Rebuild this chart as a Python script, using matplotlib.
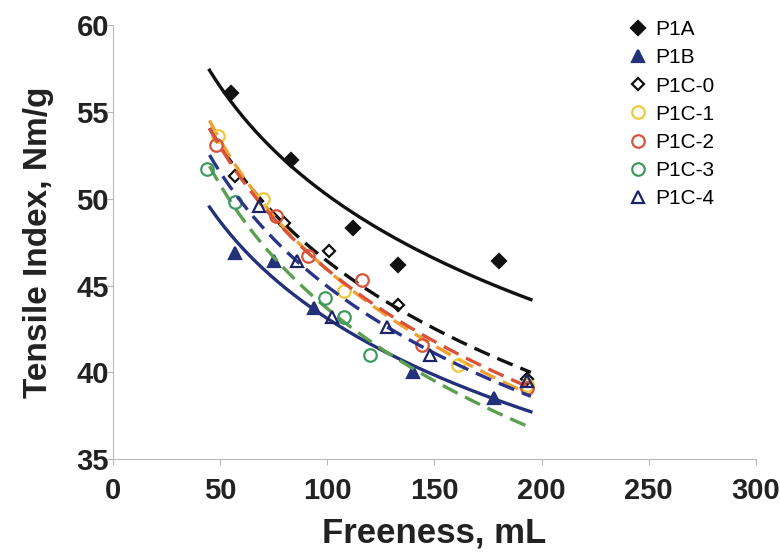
import matplotlib.pyplot as plt
import numpy as np

plt.rcParams['font.family'] = ['Liberation Sans', 'DejaVu Sans']

# freeness (mL) and tensile index (Nm/g)
p1a_x = [55, 83, 112, 133, 180]
p1a_y = [56.1, 52.2, 48.3, 46.2, 46.4]
p1b_x = [57, 75, 94, 140, 178]
p1b_y = [46.9, 46.4, 43.7, 40.0, 38.5]
p1c0_x = [57, 80, 101, 133, 193]
p1c0_y = [51.3, 48.6, 47.0, 43.9, 39.6]
p1c1_x = [49, 70, 108, 161, 193]
p1c1_y = [53.6, 50.0, 44.7, 40.4, 39.3]
p1c2_x = [48, 76, 91, 116, 144, 193]
p1c2_y = [53.1, 49.0, 46.7, 45.3, 41.6, 39.1]
p1c3_x = [44, 57, 99, 108, 120]
p1c3_y = [51.7, 49.8, 44.3, 43.2, 41.0]
p1c4_x = [68, 86, 102, 128, 148, 193]
p1c4_y = [49.6, 46.4, 43.2, 42.6, 41.0, 39.5]

trend_range = (45, 195)

series = [
    ("P1A", p1a_x, p1a_y, "D", "#111111", "#111111", "-"),
    ("P1B", p1b_x, p1b_y, "^", "#23307a", "#23307a", "-"),
    ("P1C-0", p1c0_x, p1c0_y, "D", "none", "#111111", "--"),
    ("P1C-1", p1c1_x, p1c1_y, "o", "none", "#f0c83c", "--"),
    ("P1C-2", p1c2_x, p1c2_y, "o", "none", "#d8533a", "--"),
    ("P1C-3", p1c3_x, p1c3_y, "o", "none", "#3f9a60", "--"),
    ("P1C-4", p1c4_x, p1c4_y, "^", "none", "#1c2468", "--"),
]
line_colors = ["#111111", "#23307a", "#111111", "#f0a030", "#d8533a", "#5aa050", "#2a3488"]

fig = plt.figure(figsize=(7.8, 5.54), dpi=100)
ax = fig.add_axes([0.145, 0.171, 0.824, 0.784])

xs = np.linspace(trend_range[0], trend_range[1], 200)
for (name, x, y, m, fc, ec, ls), lc in zip(series, line_colors):
    # logarithmic trendline like Excel
    k, b = np.polyfit(np.log(x), y, 1)
    if ls == "-":
        ax.plot(xs, k * np.log(xs) + b, color=lc, lw=2.4)
    else:
        ax.plot(xs, k * np.log(xs) + b, color=lc, lw=2.4, ls=(0, (5, 2.5)))
    ms = 7 if m == "D" else 9
    if m == "D" and fc == "none":
        ms = 6.5
    ax.plot(x, y, ls="none", marker=m, markersize=ms, markerfacecolor=fc,
            markeredgecolor=ec, markeredgewidth=1.6, label=name)

ax.set_xlim(0, 300)
ax.set_ylim(35, 60)
ax.set_xticks([0, 50, 100, 150, 200, 250, 300])
ax.set_yticks([35, 40, 45, 50, 55, 60])
for s in ["top", "right"]:
    ax.spines[s].set_visible(False)
for s in ["left", "bottom"]:
    ax.spines[s].set_color("#b8b8b8")
ax.tick_params(colors="#b8b8b8", length=4, labelcolor="#222222", labelsize=21)
ax.tick_params(axis="y", pad=-1)
ax.tick_params(axis="x", pad=9)
for t in ax.get_xticklabels() + ax.get_yticklabels():
    t.set_fontweight("bold")
ax.set_xlabel("Freeness, mL", fontsize=25, fontweight="bold", color="#222222", labelpad=8)
ax.set_ylabel("Tensile Index, Nm/g", fontsize=24, fontweight="bold", color="#222222", labelpad=16)

leg = ax.legend(loc="upper left", bbox_to_anchor=(0.788, 1.03), frameon=False,
                fontsize=15, handletextpad=0.3, labelspacing=0.44, handlelength=1.0,
                borderaxespad=0)

plt.savefig("out.png", dpi=100)
